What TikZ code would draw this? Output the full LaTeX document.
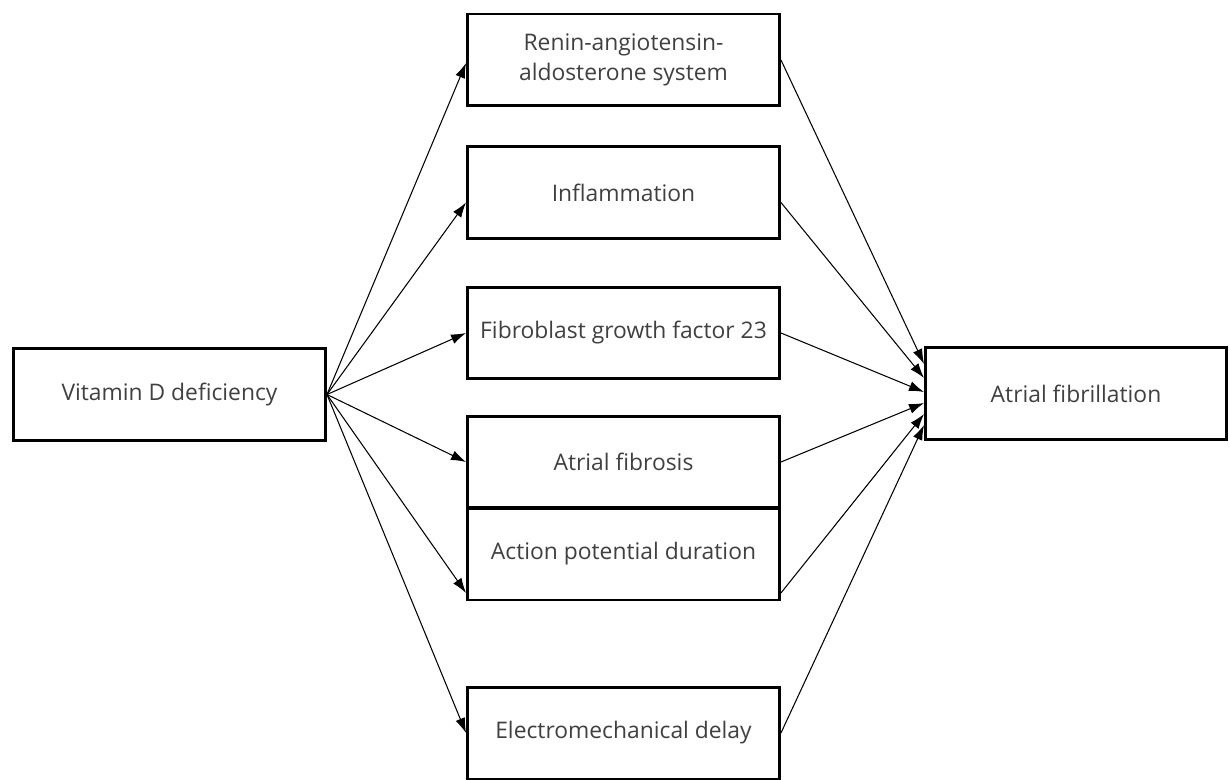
\documentclass[tikz,border=0pt]{standalone}
\usepackage{fontspec}
\setmainfont{Open Sans}
\usepackage{tikz}
\usetikzlibrary{positioning}
\usetikzlibrary{calc}
\usetikzlibrary{arrows.meta}

\tikzset{
box/.style={draw, line width=1.7pt, minimum width=6.24cm, minimum height=1.84cm, align=center, text=black!75, font=\fontsize{13}{17}\selectfont},
arr/.style={-{Latex[length=0.3cm,width=0.2cm]}, line width=0.6pt}
}

\begin{document}
\begin{tikzpicture}[x=0.02cm,y=-0.02cm]
\useasboundingbox (0,0) rectangle (1230,780);
\node[box](VitD) at (169.5,394.5){Vitamin D deficiency};
\node[box](RAAS) at (623.5,60){Renin-angiotensin-\\aldosterone system};
\node[box](Inflam) at (623.5,192.5){Inflammation};
\node[box](FGF) at (623.5,333){Fibroblast growth factor 23};
\node[box](Fibrosis) at (623.5,462){Atrial fibrosis};
\node[box](APD) at (623.5,554){Action potential duration};
\node[box](EMD) at (623.5,733){Electromechanical delay};
\node[box, minimum width=6.02cm](AF) at (1076,393.5){Atrial fibrillation};

\path
(VitD.east) edge[arr] ([yshift=-0.06cm]RAAS.west)
(VitD.east) edge[arr] ([yshift=-0.2cm]Inflam.west)
(VitD.east) edge[arr] (FGF.west)
(VitD.east) edge[arr] (Fibrosis.west)
(VitD.east) edge[arr] ([yshift=-0.78cm]APD.west)
(VitD.east) edge[arr] (EMD.west)
(RAAS.east) edge[arr] ([yshift=0.59cm]AF.west)
([yshift=-0.2cm]Inflam.east) edge[arr] ([yshift=0.31cm]AF.west)
(FGF.east) edge[arr] ([yshift=0.03cm]AF.west)
(Fibrosis.east) edge[arr] ([yshift=-0.19cm]AF.west)
([yshift=-0.78cm]APD.east) edge[arr] ([yshift=-0.41cm]AF.west)
(EMD.east) edge[arr] ([yshift=-0.63cm]AF.west);
\end{tikzpicture}
\end{document}
